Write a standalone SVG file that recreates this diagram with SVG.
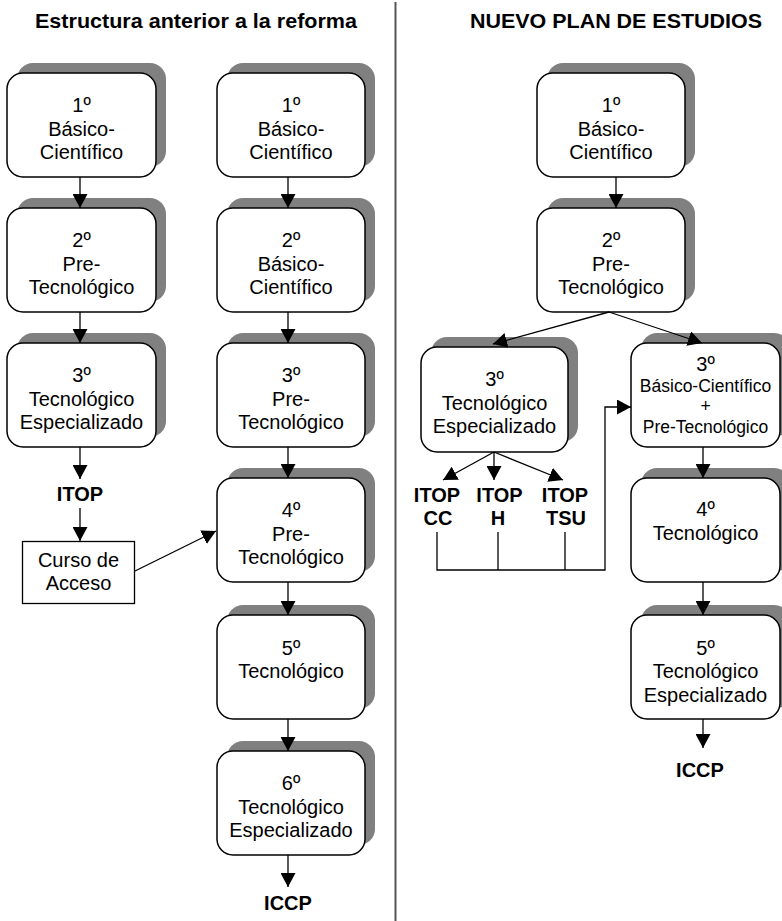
<svg xmlns="http://www.w3.org/2000/svg" width="782" height="921" viewBox="0 0 782 921">
<style>
.sh{fill:#808080;stroke:none}
.bx{fill:#fff;stroke:#000;stroke-width:1.5}
.t{font-family:"Liberation Sans",Arial,sans-serif;font-size:20px;fill:#000;text-anchor:middle}
.s{font-size:17.5px}
.b{font-weight:bold}
.h{font-size:21px}
.ln{fill:none;stroke:#000;stroke-width:1.3}
</style>
<defs>
<marker id="ah" viewBox="0 0 14 15" refX="14" refY="7.5" markerWidth="14" markerHeight="15" markerUnits="userSpaceOnUse" orient="auto">
<path d="M0,0 L14,7.5 L0,15 z" fill="#000"/>
</marker>
</defs>
<rect width="782" height="921" fill="#fff"/>
<line x1="395.5" y1="2" x2="395.5" y2="921" stroke="#555" stroke-width="2"/>
<text class="t b h" x="196" y="28" textLength="322" lengthAdjust="spacingAndGlyphs">Estructura anterior a la reforma</text>
<text class="t b h" x="616" y="28" textLength="292" lengthAdjust="spacingAndGlyphs">NUEVO PLAN DE ESTUDIOS</text>

<!-- Left column 1 -->
<g id="l1"><rect class="sh" x="17" y="63" width="149" height="104" rx="16"/><rect class="bx" x="7" y="73" width="149" height="104" rx="16"/>
<text class="t" x="81.5" y="112">1º</text><text class="t" x="81.5" y="136">Básico-</text><text class="t" x="81.5" y="159">Científico</text></g>
<g id="l2"><rect class="sh" x="17" y="198" width="149" height="104" rx="16"/><rect class="bx" x="7" y="208" width="149" height="104" rx="16"/>
<text class="t" x="81.5" y="247">2º</text><text class="t" x="81.5" y="271">Pre-</text><text class="t" x="81.5" y="294">Tecnológico</text></g>
<g id="l3"><rect class="sh" x="17" y="333" width="149" height="104" rx="16"/><rect class="bx" x="7" y="343" width="149" height="104" rx="16"/>
<text class="t" x="81.5" y="382">3º</text><text class="t" x="81.5" y="406">Tecnológico</text><text class="t" x="81.5" y="429">Especializado</text></g>
<g id="litop"><text class="t b" x="80" y="501">ITOP</text></g>
<g id="curso"><rect x="22.5" y="541.5" width="112" height="62" fill="#fff" stroke="#000" stroke-width="1.3"/>
<text class="t" x="78.5" y="567">Curso de</text><text class="t" x="78.5" y="590">Acceso</text></g>

<!-- Left column 2 -->
<g id="m1"><rect class="sh" x="227" y="63" width="148" height="104" rx="16"/><rect class="bx" x="217" y="73" width="148" height="104" rx="16"/>
<text class="t" x="291" y="112">1º</text><text class="t" x="291" y="136">Básico-</text><text class="t" x="291" y="159">Científico</text></g>
<g id="m2"><rect class="sh" x="227" y="198" width="148" height="104" rx="16"/><rect class="bx" x="217" y="208" width="148" height="104" rx="16"/>
<text class="t" x="291" y="247">2º</text><text class="t" x="291" y="271">Básico-</text><text class="t" x="291" y="294">Científico</text></g>
<g id="m3"><rect class="sh" x="227" y="333" width="148" height="104" rx="16"/><rect class="bx" x="217" y="343" width="148" height="104" rx="16"/>
<text class="t" x="291" y="382">3º</text><text class="t" x="291" y="406">Pre-</text><text class="t" x="291" y="429">Tecnológico</text></g>
<g id="m4"><rect class="sh" x="227" y="468" width="148" height="104" rx="16"/><rect class="bx" x="217" y="478" width="148" height="104" rx="16"/>
<text class="t" x="291" y="517">4º</text><text class="t" x="291" y="541">Pre-</text><text class="t" x="291" y="564">Tecnológico</text></g>
<g id="m5"><rect class="sh" x="227" y="605" width="148" height="104" rx="16"/><rect class="bx" x="217" y="615" width="148" height="104" rx="16"/>
<text class="t" x="291" y="655">5º</text><text class="t" x="291" y="678">Tecnológico</text></g>
<g id="m6"><rect class="sh" x="227" y="741" width="148" height="104" rx="16"/><rect class="bx" x="217" y="751" width="148" height="104" rx="16"/>
<text class="t" x="291" y="790">6º</text><text class="t" x="291" y="814">Tecnológico</text><text class="t" x="291" y="837">Especializado</text></g>
<g id="miccp"><text class="t b" x="288" y="910">ICCP</text></g>

<!-- Right side -->
<g id="r1"><rect class="sh" x="547" y="63" width="148" height="104" rx="16"/><rect class="bx" x="537" y="73" width="148" height="104" rx="16"/>
<text class="t" x="611" y="112">1º</text><text class="t" x="611" y="136">Básico-</text><text class="t" x="611" y="159">Científico</text></g>
<g id="r2"><rect class="sh" x="547" y="198" width="148" height="104" rx="16"/><rect class="bx" x="537" y="208" width="148" height="104" rx="16"/>
<text class="t" x="611" y="247">2º</text><text class="t" x="611" y="271">Pre-</text><text class="t" x="611" y="294">Tecnológico</text></g>
<g id="r3a"><rect class="sh" x="431" y="337" width="147" height="105" rx="16"/><rect class="bx" x="421" y="347" width="147" height="105" rx="16"/>
<text class="t" x="494.5" y="386">3º</text><text class="t" x="494.5" y="410">Tecnológico</text><text class="t" x="494.5" y="433">Especializado</text></g>
<g id="itopcc"><text class="t b" x="437" y="502">ITOP</text><text class="t b" x="438" y="525">CC</text></g>
<g id="itoph"><text class="t b" x="499.5" y="502">ITOP</text><text class="t b" x="498" y="525">H</text></g>
<g id="itoptsu"><text class="t b" x="565" y="502">ITOP</text><text class="t b" x="566" y="525">TSU</text></g>
<g id="r3b"><rect class="sh" x="641" y="333" width="149" height="104" rx="16"/><rect class="bx" x="631" y="343" width="149" height="104" rx="16"/>
<text class="t" x="705.5" y="371">3º</text><text class="t s" x="705.5" y="392">Básico-Científico</text><text class="t s" x="705.5" y="412">+</text><text class="t s" x="705.5" y="433">Pre-Tecnológico</text></g>
<g id="r4"><rect class="sh" x="641" y="468" width="149" height="104" rx="16"/><rect class="bx" x="631" y="478" width="149" height="104" rx="16"/>
<text class="t" x="705.5" y="516">4º</text><text class="t" x="705.5" y="540">Tecnológico</text></g>
<g id="r5"><rect class="sh" x="641" y="605" width="149" height="104" rx="16"/><rect class="bx" x="631" y="615" width="149" height="104" rx="16"/>
<text class="t" x="705.5" y="655">5º</text><text class="t" x="705.5" y="678">Tecnológico</text><text class="t" x="705.5" y="702">Especializado</text></g>
<g id="riccp"><text class="t b" x="700" y="777">ICCP</text></g>

<g id="connectors" class="ln">
<line x1="80" y1="177" x2="80" y2="208" marker-end="url(#ah)"/>
<line x1="80" y1="312" x2="80" y2="343" marker-end="url(#ah)"/>
<line x1="80" y1="447" x2="80" y2="479" marker-end="url(#ah)"/>
<line x1="80" y1="508" x2="80" y2="541" marker-end="url(#ah)"/>
<line x1="135" y1="571" x2="216" y2="531" marker-end="url(#ah)"/>
<line x1="288" y1="177" x2="288" y2="208" marker-end="url(#ah)"/>
<line x1="288" y1="312" x2="288" y2="343" marker-end="url(#ah)"/>
<line x1="288" y1="447" x2="288" y2="478" marker-end="url(#ah)"/>
<line x1="288" y1="582" x2="288" y2="615" marker-end="url(#ah)"/>
<line x1="288" y1="719" x2="288" y2="751" marker-end="url(#ah)"/>
<line x1="288" y1="855" x2="288" y2="887" marker-end="url(#ah)"/>
<line x1="616" y1="177" x2="616" y2="208" marker-end="url(#ah)"/>
<line x1="609" y1="312" x2="493" y2="344" marker-end="url(#ah)"/>
<line x1="609" y1="312" x2="702" y2="343" marker-end="url(#ah)"/>
<line x1="494" y1="452" x2="443" y2="480" marker-end="url(#ah)"/>
<line x1="494" y1="452" x2="494" y2="480" marker-end="url(#ah)"/>
<line x1="494" y1="452" x2="563" y2="480" marker-end="url(#ah)"/>
<polyline points="437,532 437,570 605,570 605,407 631,407" marker-end="url(#ah)"/>
<line x1="498" y1="532" x2="498" y2="570"/>
<line x1="565" y1="532" x2="565" y2="570"/>
<line x1="703" y1="447" x2="703" y2="478" marker-end="url(#ah)"/>
<line x1="703" y1="582" x2="703" y2="615" marker-end="url(#ah)"/>
<line x1="703" y1="719" x2="703" y2="748" marker-end="url(#ah)"/>
</g>
</svg>
